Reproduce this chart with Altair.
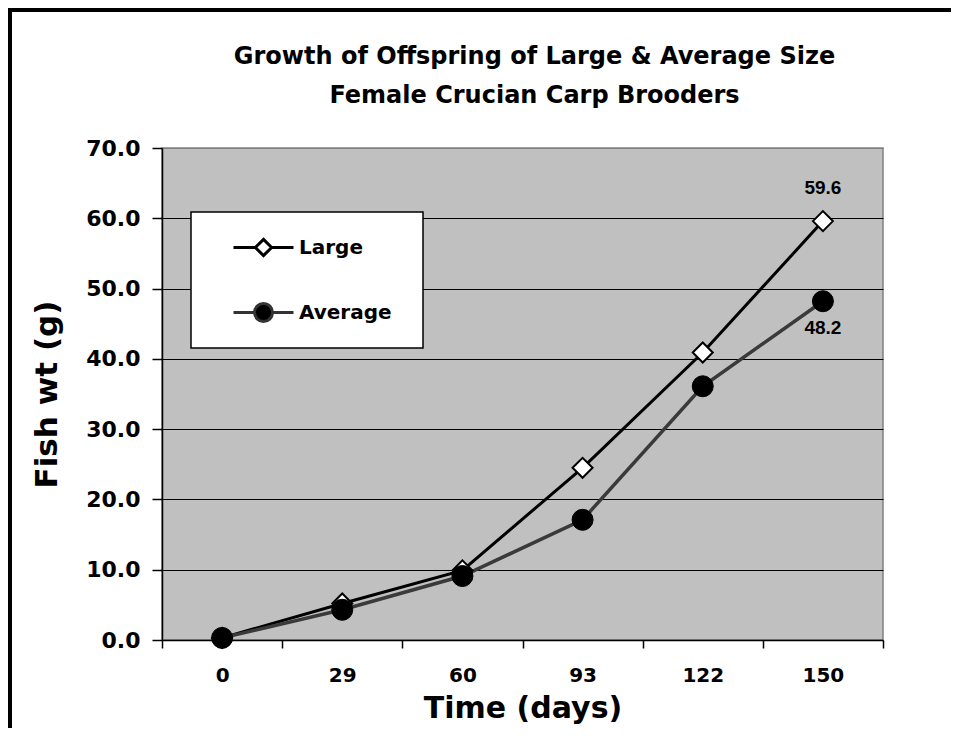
import altair as alt
import pandas as pd

days = ["0", "29", "60", "93", "122", "150"]
large = [0.3, 5.2, 9.9, 24.5, 40.9, 59.6]
average = [0.3, 4.3, 9.1, 17.1, 36.1, 48.2]
series_names = ["Large", "Average"]
y_ticks = [0, 10, 20, 30, 40, 50, 60, 70]

rows = []
for s, vals in zip(series_names, [large, average]):
    for d, v in zip(days, vals):
        rows.append({"day": d, "weight": v, "series": s})
df = pd.DataFrame(rows)

FONT = "DejaVu Sans"
NARROW = "Liberation Sans"
W, H = 721, 492
PAD_L, PAD_T, PAD_R, PAD_B = 154, 140, 68, 88

x_enc = alt.X(
    "day:O", sort=days,
    scale=alt.Scale(type="band", paddingInner=0, paddingOuter=0),
    axis=alt.Axis(
        title="Time (days)", labelAngle=0, tickBand="extent",
        domainColor="black", domainWidth=1.5, tickColor="black", tickSize=8, tickWidth=1.5,
        labelFont=FONT, labelFontSize=20, labelFontWeight="bold", labelColor="black",
        labelPadding=17, titleFont=FONT, titleFontSize=30, titleFontWeight="bold",
        titleColor="black", titlePadding=8, grid=False,
    ),
)
y_enc = alt.Y(
    "weight:Q",
    scale=alt.Scale(domain=[0, 70], nice=False, zero=True),
    axis=alt.Axis(
        title="Fish wt (g)", values=y_ticks, format=".1f",
        domainColor="black", domainWidth=1.5, tickColor="black", tickSize=10, tickWidth=1.5,
        labelFont=FONT, labelFontSize=22, labelFontWeight="bold", labelColor="black",
        labelPadding=12, titleFont=FONT, titleFontSize=31, titleFontWeight="bold",
        titleColor="black", titlePadding=22, grid=True,
        gridColor={"condition": {"test": "datum.value === 70", "value": "#808080"}, "value": "black"},
        gridWidth=1,
    ),
)

base = alt.Chart(df)

line_large = base.transform_filter("datum.series === 'Large'").mark_line(
    color="black", strokeWidth=3).encode(x=x_enc, y=y_enc)
line_avg = base.transform_filter("datum.series === 'Average'").mark_line(
    color="#3a3a3a", strokeWidth=3.5).encode(x=x_enc, y=y_enc)
pts_large = base.transform_filter("datum.series === 'Large'").mark_point(
    shape="diamond", filled=True, fill="white", stroke="black", strokeWidth=2,
    size=400, opacity=1).encode(x=x_enc, y=y_enc)
pts_avg = base.transform_filter("datum.series === 'Average'").mark_point(
    shape="circle", filled=True, fill="black", stroke="black", strokeWidth=1,
    size=441, opacity=1).encode(x=x_enc, y=y_enc)

lab_large = base.transform_filter("datum.series === 'Large' && datum.day === '150'").mark_text(
    font=NARROW, fontSize=19, fontWeight="bold", color="black", dy=-33).encode(
    x=x_enc, y=y_enc, text=alt.Text("weight:Q", format=".1f"))
lab_avg = base.transform_filter("datum.series === 'Average' && datum.day === '150'").mark_text(
    font=NARROW, fontSize=19, fontWeight="bold", color="black", dy=27).encode(
    x=x_enc, y=y_enc, text=alt.Text("weight:Q", format=".1f"))

# legend box background
one = alt.Data(values=[{"k": 1}])
legend_box = alt.Chart(one).mark_rect(fill="white", stroke="black", strokeWidth=1.5).encode(
    x=alt.value(29), x2=alt.value(261), y=alt.value(64), y2=alt.value(200))

# legend symbols: line + marker paths
large_sym = "M-1,0L-0.27,0M0,-0.27L0.27,0L0,0.27L-0.27,0ZM0.27,0L1,0"
avg_sym = ("M-1,0L-0.3,0M0.3,0L1,0"
           "M-0.3,0A0.3,0.3 0 1,1 0.3,0A0.3,0.3 0 1,1 -0.3,0Z")
legend_layer = base.transform_filter("false").mark_point(
    filled=True, opacity=1, size=3600, strokeWidth=3).encode(
    shape=alt.Shape("series:N", scale=alt.Scale(domain=series_names, range=[large_sym, avg_sym]),
                    legend=alt.Legend(
                        title=None, orient="none", legendX=70, legendY=68,
                        symbolSize=3600, symbolStrokeWidth=3, rowPadding=19, padding=0,
                        labelFont=FONT, labelFontSize=20, labelFontWeight="bold",
                        labelColor="black", labelOffset=4, labelLimit=300)),
    fill=alt.Fill("series:N", scale=alt.Scale(domain=series_names, range=["white", "black"])),
    stroke=alt.Stroke("series:N", scale=alt.Scale(domain=series_names, range=["black", "#333333"])),
)

# outer chart border (top and left)
border_top = alt.Chart(one).mark_rule(color="black", strokeWidth=4).encode(
    x=alt.value(-PAD_L), x2=alt.value(W + PAD_R), y=alt.value(-PAD_T + 2))
border_left = alt.Chart(one).mark_rule(color="black", strokeWidth=4).encode(
    x=alt.value(-PAD_L + 2), y=alt.value(-PAD_T), y2=alt.value(H + PAD_B))

chart = alt.layer(
    line_large, line_avg, pts_large, pts_avg, lab_large, lab_avg,
    legend_box, legend_layer, border_top, border_left,
).resolve_scale(
    shape="independent", fill="independent", stroke="independent"
).properties(
    width=W, height=H,
    title=alt.TitleParams(
        text=["Growth of Offspring of Large & Average Size", "Female Crucian Carp Brooders"],
        font=FONT, fontSize=24, fontWeight="bold", color="black", lineHeight=39,
        anchor="middle", offset=0, dy=102, dx=12,
    ),
    view=alt.ViewBackground(fill="#c0c0c0", stroke="#808080", strokeWidth=1.5),
    autosize=alt.AutoSizeParams(type="none"),
    padding={"left": PAD_L, "top": PAD_T, "right": PAD_R, "bottom": PAD_B},
    background="white",
).configure_view(
    fill="#c0c0c0", stroke="#808080", strokeWidth=1.5
)

chart.save("out.html", embed_options={"renderer": "svg", "actions": False})
